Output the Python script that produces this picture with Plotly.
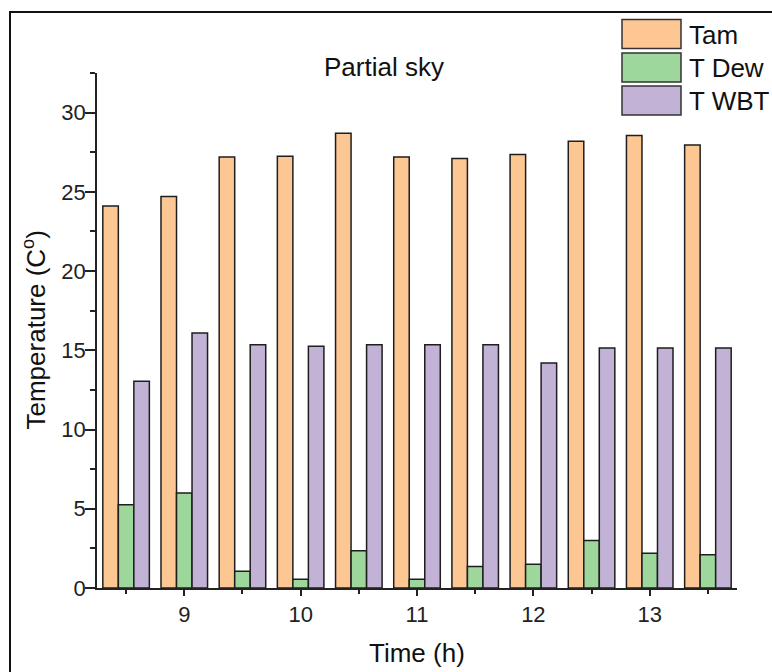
import plotly.graph_objects as go

# Hours of the measurement day (half-hour steps)
time_h = [8.5, 9.0, 9.5, 10.0, 10.5, 11.0, 11.5, 12.0, 12.5, 13.0, 13.5]

# Temperatures in °C
t_am = [24.1, 24.7, 27.2, 27.25, 28.7, 27.2, 27.1, 27.35, 28.2, 28.55, 27.95]
t_dew = [5.25, 6.0, 1.05, 0.55, 2.35, 0.55, 1.35, 1.5, 3.0, 2.2, 2.1]
t_wbt = [13.05, 16.1, 15.35, 15.25, 15.35, 15.35, 15.35, 14.2, 15.15, 15.15, 15.15]

series_names = ["Tam", "T Dew", "T WBT"]
series_values = [t_am, t_dew, t_wbt]
series_colors = ["#FDC794", "#9DD79B", "#C2B2D6"]

x_ticks = [9, 10, 11, 12, 13]

W, H = 772, 672
ML, MR, MT, MB = 97, 35, 72.5, 83.5
PW, PH = W - ML - MR, H - MT - MB


def px_x(p):
    return (p - ML) / PW


def px_y(p):
    return (H - MB - p) / PH


fig = go.Figure()
for name, vals, col in zip(series_names, series_values, series_colors):
    fig.add_trace(go.Bar(
        x=time_h, y=vals, name=name,
        marker=dict(color=col, line=dict(color="#1e1e1e", width=1.5)),
        showlegend=False,
    ))

axis_font = dict(family="Liberation Sans, Arial, sans-serif", size=22, color="#222222")

fig.update_layout(
    width=W, height=H,
    margin=dict(l=ML, r=MR, t=MT, b=MB, pad=0),
    paper_bgcolor="white", plot_bgcolor="white",
    barmode="group", bargap=0.2, bargroupgap=0,
    font=dict(family="Liberation Sans, Arial, sans-serif", color="#111111"),
    xaxis=dict(
        range=[8.25, 13.75], tickvals=x_ticks, ticktext=[str(v) for v in x_ticks],
        showgrid=False, zeroline=False, showline=True, linecolor="#222222", linewidth=1.5,
        ticks="outside", ticklen=6, tickwidth=1.5, tickcolor="#222222",
        tickfont=axis_font,
        minor=dict(tickvals=[8.5, 9.5, 10.5, 11.5, 12.5, 13.5], ticks="outside",
                   ticklen=4, tickwidth=1.5, tickcolor="#222222"),
    ),
    yaxis=dict(
        range=[0, 32.5], tick0=0, dtick=5,
        showgrid=False, zeroline=False, showline=True, linecolor="#222222", linewidth=1.5,
        ticks="outside", ticklen=10, tickwidth=1.5, tickcolor="#222222",
        tickfont=axis_font, ticklabelstandoff=-5,
        minor=dict(dtick=2.5, ticks="outside", ticklen=5, tickwidth=1.5, tickcolor="#222222"),
    ),
)

text_font = dict(family="Liberation Sans, Arial, sans-serif", size=26, color="#111111")

annotations = [
    dict(text="Partial sky", x=px_x(384), y=px_y(66), xref="paper", yref="paper",
         xanchor="center", yanchor="middle", showarrow=False, font=text_font),
    dict(text="Time (h)", x=0.5, y=px_y(654), xref="paper", yref="paper",
         xanchor="center", yanchor="middle", showarrow=False, font=text_font),
    dict(text="Temperature (C<sup>o</sup>)", x=px_x(35), y=0.5, xref="paper", yref="paper",
         xanchor="center", yanchor="middle", textangle=-90, showarrow=False, font=text_font),
]

shapes = [
    # figure frame (left and top edges)
    dict(type="path", xref="paper", yref="paper",
         path=f"M {px_x(10)},{px_y(700)} L {px_x(10)},{px_y(11.5)} L {px_x(800)},{px_y(11.5)}",
         line=dict(color="#111111", width=2)),
]

# legend entries: swatch boxes with labels
row_top = [19, 52.5, 85.5]
for name, col, top in zip(series_names, series_colors, row_top):
    shapes.append(dict(type="rect", xref="paper", yref="paper",
                       x0=px_x(622), x1=px_x(681), y0=px_y(top + 29), y1=px_y(top),
                       fillcolor=col, line=dict(color="#333333", width=1.5)))
    annotations.append(dict(text=name, x=px_x(687), y=px_y(top + 15), xref="paper", yref="paper",
                            xanchor="left", yanchor="middle", showarrow=False, font=text_font))

fig.update_layout(annotations=annotations, shapes=shapes)

fig.write_html("out.html")
